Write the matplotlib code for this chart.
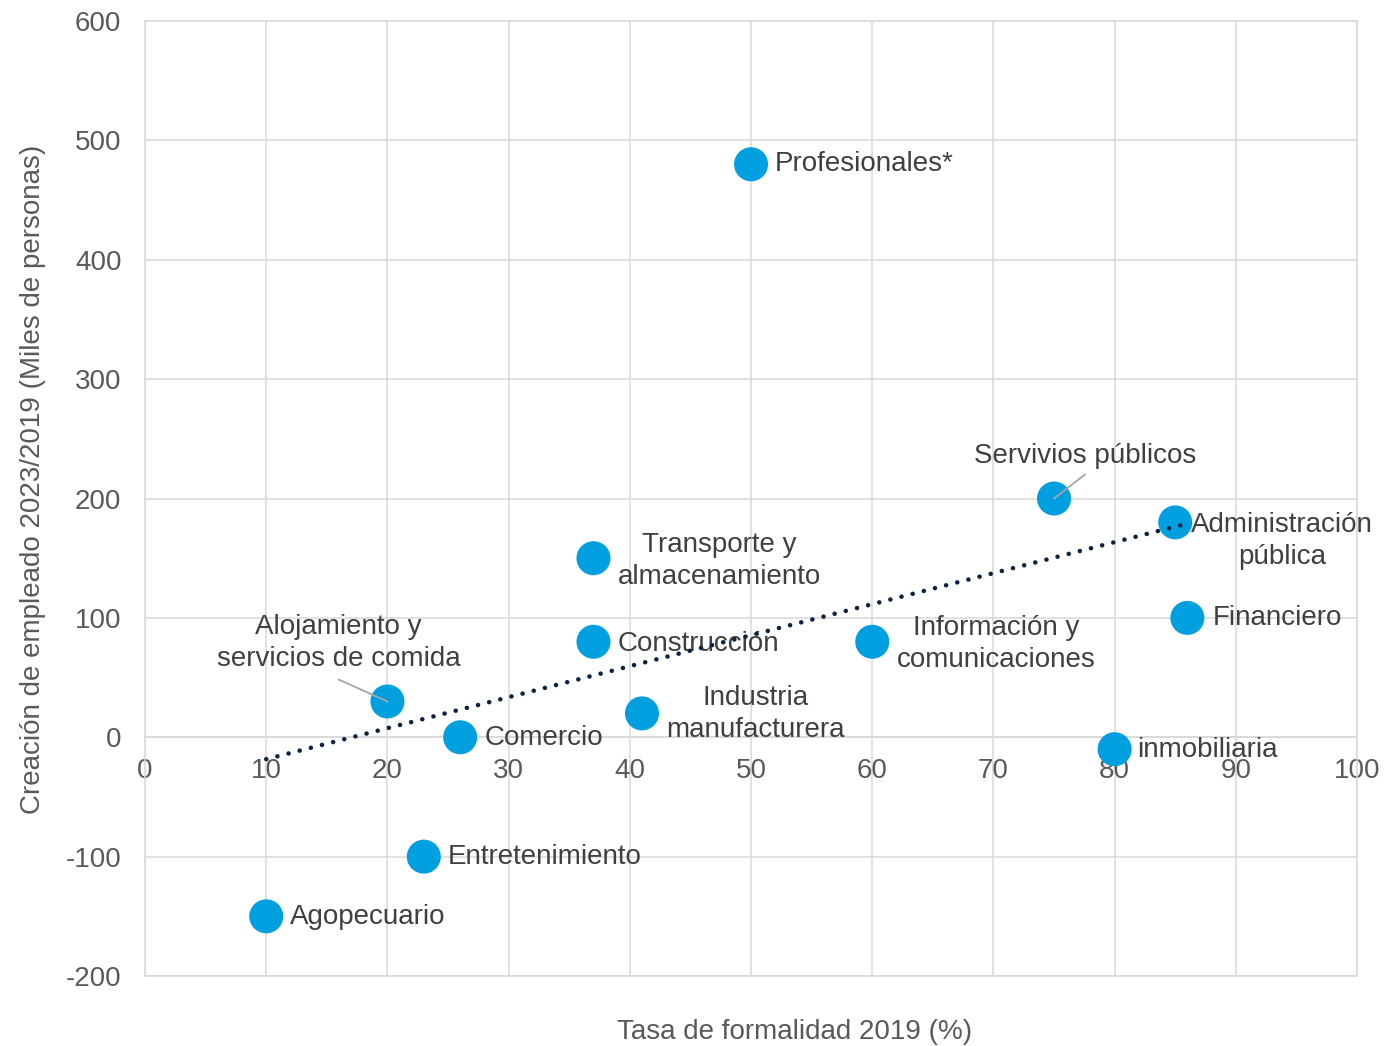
import numpy as np
import matplotlib
matplotlib.use('Agg')
import matplotlib.pyplot as plt

# data
sectores = ['Agopecuario', 'Entretenimiento', 'Alojamiento y\nservicios de comida',
            'Comercio', 'Transporte y\nalmacenamiento', 'Construcción',
            'Industria\nmanufacturera', 'Profesionales*', 'Información y\ncomunicaciones',
            'Servivios públicos', 'Administración\npública', 'Financiero', 'inmobiliaria']
formalidad = [10, 23, 20, 26, 37, 37, 41, 50, 60, 75, 85, 86, 80]
empleo = [-150, -100, 30, 0, 150, 80, 20, 480, 80, 200, 180, 100, -10]

# label placement (offset in pixels from the point, alignment)
offsets = [(24, -1), (24, 0), (-49, 58), (24, -1), (126, -3), (24, -2), (114, -1),
           (24, 0), (124, -2), (31, 43), (107, -19), (25, 0), (23, -1)]
aligns = ['left', 'left', 'center', 'left', 'center', 'left', 'center',
          'left', 'center', 'center', 'center', 'left', 'left']
leaders = {2: (-49, 22), 9: (31, 24)}

plt.rcParams['font.family'] = ['Liberation Sans', 'DejaVu Sans']
plt.rcParams['axes.unicode_minus'] = False

fs = 20

fig = plt.figure(figsize=(14, 10.46), dpi=100)
ax = fig.add_axes([0.1036, 0.0669, 0.8657, 0.913])

grid_c = '#d9d9d9'
ax.set_xlim(0, 100)
ax.set_ylim(-200, 600)
ax.set_xticks(np.arange(0, 101, 10))
ax.set_yticks(np.arange(-200, 601, 100))
ax.grid(True, color=grid_c, lw=1.1, zorder=0)
ax.set_axisbelow(True)

for s in ['top', 'right', 'left']:
    ax.spines[s].set_color(grid_c)
    ax.spines[s].set_linewidth(1.1)
ax.spines['bottom'].set_position(('data', 0))
ax.spines['bottom'].set_color(grid_c)
ax.spines['bottom'].set_linewidth(1.1)
ax.axhline(-200, color=grid_c, lw=1.1, clip_on=False, zorder=0)

ax.tick_params(axis='both', length=0, labelsize=fs, labelcolor='#595959')
ax.tick_params(axis='y', pad=17)
ax.tick_params(axis='x', pad=15)

ax.scatter(formalidad, empleo, s=600, color='#009FE0', edgecolors='none', zorder=3)

# linear trend line
coef = np.polyfit(formalidad, empleo, 1)
xt = np.array([min(formalidad), max(formalidad)])
ax.plot(xt, np.polyval(coef, xt), color='#0C2340', lw=3.3, dashes=(0.01, 2.5),
        dash_capstyle='round', zorder=5)

for i, name in enumerate(sectores):
    ax.annotate(name, xy=(formalidad[i], empleo[i]), xytext=offsets[i],
                textcoords='offset pixels', ha=aligns[i], va='center',
                fontsize=fs, color='#404040', multialignment='center',
                linespacing=1.3, zorder=4)

for i, off in leaders.items():
    ax.annotate('', xy=(formalidad[i], empleo[i]), xytext=off, textcoords='offset pixels',
                arrowprops=dict(arrowstyle='-', color='#a6a6a6', lw=1.3,
                                shrinkA=0, shrinkB=0), zorder=6)

ax.set_xlabel('Tasa de formalidad 2019 (%)', fontsize=fs, color='#595959')
ax.xaxis.set_label_coords(0.536, -0.045)
ax.set_ylabel('Creación de empleado 2023/2019 (Miles de personas)', fontsize=fs,
              color='#595959')
ax.yaxis.set_label_coords(-0.082, 0.52)

fig.savefig('out.png', dpi=100)
